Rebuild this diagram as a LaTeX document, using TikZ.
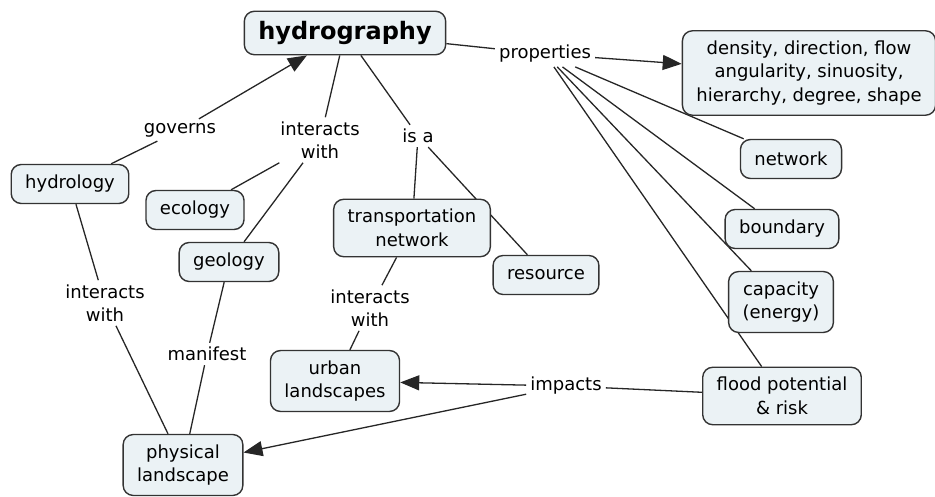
\documentclass[tikz,border=0pt]{standalone}
\usepackage{fontspec}
\setmainfont{DejaVu Sans}
\usetikzlibrary{arrows.meta, backgrounds}

\definecolor{boxfill}{HTML}{EBF2F5}
\definecolor{boxline}{HTML}{333333}

\tikzset{
  concept/.style={draw=boxline, line width=1.4pt, fill=boxfill, rounded corners=10pt,
    align=center, inner xsep=14pt, inner ysep=10pt, minimum height=39pt,
    font=\fontsize{18}{23.5}\selectfont},
  phrase/.style={align=center, inner sep=4pt, font=\fontsize{18}{23.5}\selectfont},
  link/.style={line width=1.3pt, draw=black!85},
  linkto/.style={link, -{Triangle[length=19pt, width=15pt]}},
}

\begin{document}
\begin{tikzpicture}[x=1pt, y=-1pt]
    \useasboundingbox (0,0) rectangle (935,497);

    % main concept
    \node[concept, font=\fontsize{24}{28}\selectfont\bfseries] (hydrography) at (345,33) {hydrography};

    % properties side
    \node[concept] (density) at (809,73) {density, direction, flow\\angularity, sinuosity,\\hierarchy, degree, shape};
    \node[concept] (network) at (791,159) {network};
    \node[concept] (boundary) at (782,229) {boundary};
    \node[concept] (capacity) at (781,302) {capacity\\(energy)};
    \node[concept] (flood) at (782,396) {flood potential\\\& risk};

    % left and middle concepts
    \node[concept] (hydrology) at (70,184) {hydrology};
    \node[concept] (ecology) at (195,210) {ecology};
    \node[concept] (geology) at (229,262) {geology};
    \node[concept] (transport) at (412,228) {transportation\\network};
    \node[concept] (resource) at (546,275) {resource};
    \node[concept] (urban) at (335,381) {urban\\landscapes};
    \node[concept] (physical) at (183,465) {physical\\landscape};

    % linking phrases
    \node[phrase] (properties) at (545,54) {properties};
    \node[phrase] (governs) at (180,130) {governs};
    \node[phrase] (intwith1) at (320,140) {interacts\\with};
    \node[phrase] (isa) at (418,136) {is a};
    \node[phrase] (intwith2) at (370,308) {interacts\\with};
    \node[phrase] (intwith3) at (105,303) {interacts\\with};
    \node[phrase] (manifest) at (207,354) {manifest};
    \node[phrase] (impacts) at (566,386) {impacts};

    \begin{scope}[on background layer]
        % hydrography -> properties
        \draw[link] (hydrography) -- (properties);
        \draw[linkto] (properties) -- (density);
        \draw[link] (properties) -- (network);
        \draw[link] (properties) -- (boundary);
        \draw[link] (properties) -- (capacity);
        \draw[link] (properties) -- (flood);

        % hydrology governs hydrography
        \draw[link] (hydrology) -- (governs);
        \draw[linkto] (governs) -- (hydrography);

        % interacts with
        \draw[link] (hydrography) -- (intwith1);
        \draw[link] (intwith1) -- (ecology);
        \draw[link] (intwith1) -- (geology);

        % is a
        \draw[link] (hydrography) -- (isa);
        \draw[link] (isa) -- (transport);
        \draw[link] (isa) -- (resource);

        % transport -> urban
        \draw[link] (transport) -- (intwith2);
        \draw[link] (intwith2) -- (urban);

        % hydrology -> physical landscape
        \draw[link] (hydrology) -- (intwith3);
        \draw[link] (intwith3) -- (physical);

        % geology manifest
        \draw[link] (geology) -- (manifest);
        \draw[link] (manifest) -- (physical);

        % flood impacts
        \draw[link] (flood) -- (impacts);
        \draw[linkto] (impacts) -- (urban);
        \draw[linkto] (impacts) -- (physical);
    \end{scope}

\end{tikzpicture}
\end{document}
